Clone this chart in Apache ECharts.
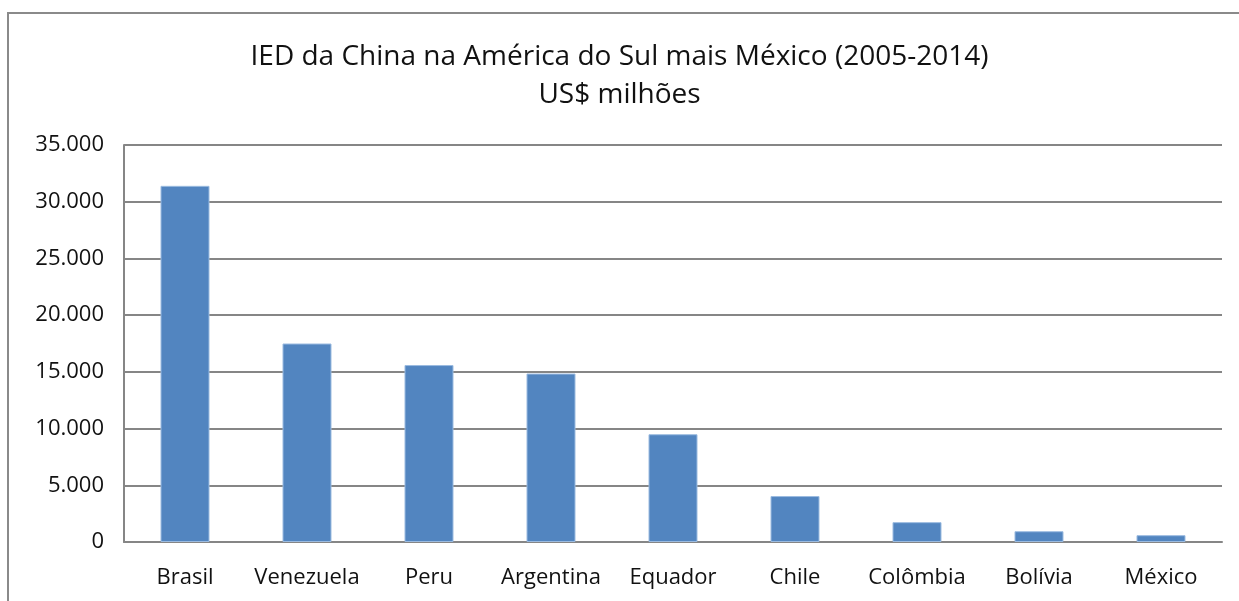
<!DOCTYPE html>
<html>
<head>
<meta charset="utf-8">
<script src="https://cdn.jsdelivr.net/npm/echarts@6/dist/echarts.min.js"></script>
<style>
  html, body { margin: 0; padding: 0; background: #fff; }
  #chart { width: 1239px; height: 601px; }
</style>
</head>
<body>
<div id="chart"></div>
<script>
// countries (x axis)
const countries = ['Brasil', 'Venezuela', 'Peru', 'Argentina', 'Equador', 'Chile', 'Colômbia', 'Bolívia', 'México'];
// IED, US$ milhões
const iedValues = [31400, 17500, 15600, 14850, 9500, 4050, 1750, 950, 600];
// y axis ticks
const yTicks = [0, 5000, 10000, 15000, 20000, 25000, 30000, 35000];

const fmtNum = v => String(v).replace(/\B(?=(\d{3})+(?!\d))/g, '.');

const chart = echarts.init(document.getElementById('chart'));

const option = {
  backgroundColor: '#fff',
  animation: false,
  title: {
    text: 'IED da China na América do Sul mais México (2005-2014)\nUS$ milhões',
    left: 'center',
    top: 33,
    textStyle: {
      fontFamily: 'Open Sans',
      fontSize: 28,
      fontWeight: 'normal',
      color: '#111',
      lineHeight: 38
    }
  },
  graphic: [
    {
      type: 'rect',
      shape: { x: 8, y: 13, width: 1400, height: 800 },
      style: { fill: 'none', stroke: '#8a8a8a', lineWidth: 2 },
      silent: true
    }
  ],
  grid: {
    left: 124,
    right: 17,
    top: 145,
    bottom: 59
  },
  xAxis: {
    type: 'category',
    data: countries,
    axisLine: { lineStyle: { color: '#868686', width: 2 } },
    axisTick: { show: false },
    axisLabel: {
      interval: 0,
      fontFamily: 'Open Sans',
      fontSize: 22,
      color: '#111',
      margin: 25
    }
  },
  yAxis: {
    type: 'value',
    min: yTicks[0],
    max: yTicks[yTicks.length - 1],
    interval: 5000,
    axisLine: { show: true, lineStyle: { color: '#868686', width: 2 } },
    axisTick: { show: false },
    splitLine: { lineStyle: { color: '#868686', width: 2 } },
    axisLabel: {
      fontFamily: 'Open Sans',
      fontSize: 22,
      color: '#111',
      margin: 20,
      formatter: fmtNum
    }
  },
  series: [
    {
      type: 'bar',
      data: iedValues,
      barWidth: 49,
      itemStyle: {
        color: '#5285c0',
        borderColor: '#9bbbe0',
        borderWidth: 1
      }
    }
  ]
};

chart.setOption(option);
</script>
</body>
</html>
